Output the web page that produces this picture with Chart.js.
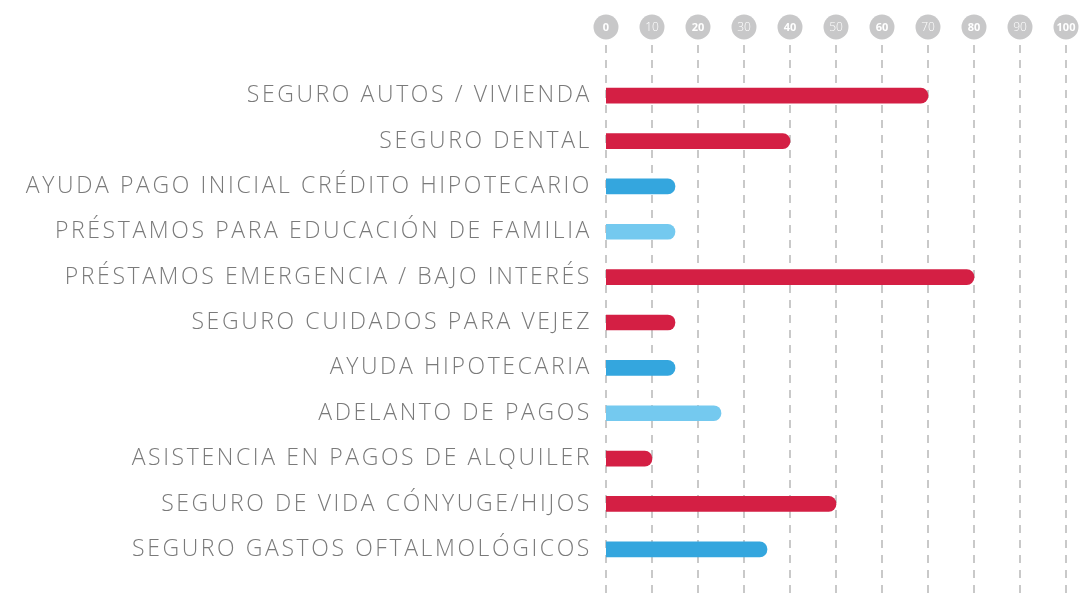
<!DOCTYPE html>
<html lang="es">
<head>
    <meta charset="UTF-8">
    <title>Beneficios</title>
    <script src="https://cdn.jsdelivr.net/npm/chart.js"></script>
    <style>
        * { margin: 0; padding: 0; box-sizing: border-box; }
        body { background: #ffffff; width: 1086px; height: 597px; overflow: hidden; }
        .chart-box { position: relative; width: 1086px; height: 597px; }
    </style>
</head>
<body>
    <div class="chart-box">
        <canvas id="benefitsChart"></canvas>
    </div>

    <script>
        // datos
        const categories = [
            'SEGURO AUTOS / VIVIENDA',
            'SEGURO DENTAL',
            'AYUDA PAGO INICIAL CRÉDITO HIPOTECARIO',
            'PRÉSTAMOS PARA EDUCACIÓN DE FAMILIA',
            'PRÉSTAMOS EMERGENCIA / BAJO INTERÉS',
            'SEGURO CUIDADOS PARA VEJEZ',
            'AYUDA HIPOTECARIA',
            'ADELANTO DE PAGOS',
            'ASISTENCIA EN PAGOS DE ALQUILER',
            'SEGURO DE VIDA CÓNYUGE/HIJOS',
            'SEGURO GASTOS OFTALMOLÓGICOS'
        ];
        const values = [70, 40, 15, 15, 80, 15, 15, 25, 10, 50, 35];
        const groups = ['seguro', 'seguro', 'ayuda', 'prestamo', 'seguro', 'seguro', 'ayuda', 'prestamo', 'seguro', 'seguro', 'ayuda'];
        const tickValues = [0, 10, 20, 30, 40, 50, 60, 70, 80, 90, 100];

        const groupColors = { seguro: '#d41f44', ayuda: '#34a6de', prestamo: '#74c9ef' };
        const FONT = "'Open Sans', 'Noto Sans', sans-serif";

        // circulos de la escala y lineas punteadas
        const topScalePlugin = {
            id: 'topScale',
            beforeDraw(chart) {
                // las etiquetas del original son muy anchas
                chart.ctx.letterSpacing = '2.6px';
            },
            beforeDatasetsDraw(chart) {
                const ctx = chart.ctx;
                const x = chart.scales.x;
                ctx.letterSpacing = '0px';
                ctx.save();
                ctx.strokeStyle = '#c9c9c9';
                ctx.lineWidth = 2;
                ctx.setLineDash([8, 7]);
                tickValues.forEach(v => {
                    const px = Math.round(x.getPixelForValue(v));
                    ctx.beginPath();
                    ctx.moveTo(px, 45);
                    ctx.lineTo(px, chart.height);
                    ctx.stroke();
                });
                ctx.restore();
            },
            afterDraw(chart) {
                const ctx = chart.ctx;
                const x = chart.scales.x;
                ctx.save();
                ctx.letterSpacing = '0px';
                tickValues.forEach((v, i) => {
                    const px = x.getPixelForValue(v);
                    ctx.fillStyle = '#c8c8c9';
                    ctx.beginPath();
                    ctx.arc(px, 27, 12.5, 0, Math.PI * 2);
                    ctx.fill();
                    ctx.fillStyle = '#ffffff';
                    ctx.textAlign = 'center';
                    ctx.textBaseline = 'middle';
                    ctx.font = (i % 2 === 0 ? 'bold 11px ' : '300 12px ') + FONT;
                    ctx.fillText(String(v), px, 27.5);
                });
                ctx.restore();
            }
        };

        function createChart() {
            const ctx = document.getElementById('benefitsChart').getContext('2d');
            new Chart(ctx, {
                type: 'bar',
                data: {
                    labels: categories,
                    datasets: [{
                        data: values,
                        backgroundColor: groups.map(g => groupColors[g]),
                        barThickness: 15,
                        borderRadius: 8,
                        borderSkipped: 'start'
                    }]
                },
                options: {
                    indexAxis: 'y',
                    responsive: true,
                    maintainAspectRatio: false,
                    animation: false,
                    layout: { padding: { top: 73, bottom: 25, left: 0, right: 20 } },
                    plugins: {
                        legend: { display: false },
                        tooltip: { enabled: false }
                    },
                    scales: {
                        x: {
                            min: 0,
                            max: 100,
                            display: false
                        },
                        y: {
                            afterFit: s => { s.width = 606; },
                            grid: { display: false },
                            border: { display: false },
                            ticks: {
                                color: '#7a7a7a',
                                padding: 6,
                                font: { family: FONT, size: 23, weight: '300' }
                            }
                        }
                    }
                },
                plugins: [topScalePlugin]
            });
        }

        window.onload = createChart;
    </script>
</body>
</html>
